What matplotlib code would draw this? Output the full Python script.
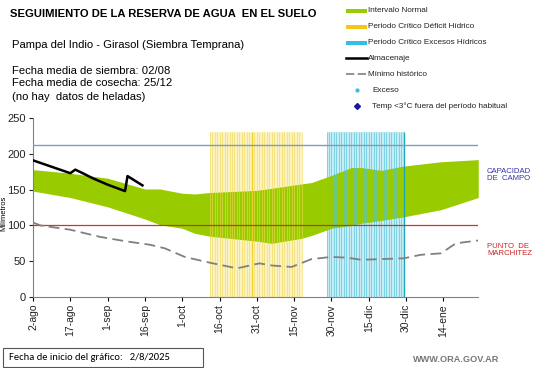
import matplotlib
matplotlib.use("Agg")
import matplotlib.pyplot as plt
import numpy as np
from matplotlib.lines import Line2D
from matplotlib.patches import Rectangle

plt.rcParams['font.family'] = ['Liberation Sans', 'DejaVu Sans']

# ---- data (day 0 = 2-ago) ----
tick_days = [0, 15, 30, 45, 60, 75, 90, 105, 120, 135, 150, 165]
tick_labels = ['2-ago', '17-ago', '1-sep', '16-sep', '1-oct', '16-oct', '31-oct',
               '15-nov', '30-nov', '15-dic', '30-dic', '14-ene']

band_days = [0, 15, 30, 45, 51, 60, 65, 71, 90, 96, 108, 112, 120, 128, 132, 140, 149, 164, 179]
band_upper = [178, 173, 166, 151, 151, 145, 144, 146, 149, 152, 158, 160, 170, 181, 181, 177, 183, 189, 192]
band_lower = [148, 139, 126, 109, 101, 96, 89, 85, 78, 75, 82, 86, 96, 100, 103, 107, 112, 122, 139]

alm_days = [0, 15, 17, 20, 24, 30, 37, 38, 44]
alm_values = [191, 173, 178, 173, 166, 157, 148, 169, 156]

min_days = [0, 3, 15, 27, 37, 47, 53, 61, 71, 82, 91, 96, 104, 112, 120, 126, 132, 140, 149, 156, 164, 170, 179]
min_values = [104, 100, 94, 84, 78, 73, 68, 56, 48, 40, 47, 44, 42, 53, 56, 55, 52, 53, 54, 59, 61, 75, 79]

field_capacity = 212
wilting_point = 100
deficit_period = (71, 108)
excess_period = (118, 149)
band_top = 231

fig = plt.figure(figsize=(5.41, 3.68), dpi=100)
ax = fig.add_axes([0.061, 0.193, 0.823, 0.486])

# critical periods
for (a, b), light, dark in [(deficit_period, '#fbf3c4', '#f0d850'),
                            (excess_period, '#c6edf5', '#4cc3da')]:
    ax.fill_between([a, b], 0, band_top, color=light, zorder=0, lw=0)
    ax.vlines(np.arange(a, b + 1), 0, band_top, color=dark, lw=0.7, zorder=2, alpha=0.6)
ax.vlines([88], 0, band_top, color='#f0d020', lw=1.0, zorder=2, alpha=0.8)
ax.vlines([excess_period[1]], 0, band_top, color='#1aa8b8', lw=1.0, zorder=2)

ax.fill_between(band_days, band_lower, band_upper, color='#99cc00', lw=0, zorder=1)

ax.axhline(field_capacity, color='#7f9cc0', lw=1, zorder=4)
ax.axhline(wilting_point, color='#c8372d', lw=0.9, zorder=4)

ax.plot(min_days, min_values, color='#808080', lw=1.3, dashes=(6, 3), zorder=5)
ax.plot(alm_days, alm_values, color='black', lw=1.8, zorder=6)

ax.set_xlim(0, 179)
ax.set_ylim(0, 250)
ax.set_yticks([0, 50, 100, 150, 200, 250])
ax.set_xticks(tick_days)
ax.set_xticklabels(tick_labels, rotation=90, fontsize=7.5, color='#222222')
ax.tick_params(axis='y', labelsize=8, colors='#222222', length=3, width=0.8, pad=2)
ax.tick_params(axis='x', length=3, width=0.8, pad=2)
for s in ['top', 'right']:
    ax.spines[s].set_visible(False)
for s in ['left', 'bottom']:
    ax.spines[s].set_color('#808080')
ax.set_ylabel('Milímetros', fontsize=5.5, labelpad=-2)
ax.yaxis.set_label_coords(-0.058, 0.47)

# right side labels
fig.text(487 / 541, 1 - 175 / 368, 'CAPACIDAD\nDE  CAMPO', color='#3333aa', fontsize=5.6,
         va='center', ha='left', linespacing=1.1)
fig.text(487 / 541, 1 - 250 / 368, 'PUNTO  DE\nMARCHITEZ', color='#cc2222', fontsize=5.6,
         va='center', ha='left', linespacing=1.1)

# header texts
fig.text(10 / 541, 1 - 14 / 368, 'SEGUIMIENTO DE LA RESERVA DE AGUA  EN EL SUELO',
         fontsize=8.1, fontweight='bold', va='center', ha='left')
fig.text(12 / 541, 1 - 45 / 368, 'Pampa del Indio - Girasol (Siembra Temprana)',
         fontsize=8.1, va='center', ha='left')
for yy, line in [(70.5, 'Fecha media de siembra: 02/08'),
                 (83.5, 'Fecha media de cosecha: 25/12'),
                 (96.5, '(no hay  datos de heladas)')]:
    fig.text(12 / 541, 1 - yy / 368, line, fontsize=8.1, va='center', ha='left')

# legend (manual)
leg_items = [
    ('patch', '#99cc00', 'Intervalo Normal'),
    ('patch', '#f5c518', 'Periodo Crítico Déficit Hídrico'),
    ('patch', '#33bfe0', 'Periodo Crítico Excesos Hídricos'),
    ('line', 'black', 'Almacenaje'),
    ('dash', '#808080', 'Mínimo histórico'),
    ('dot', '#33bfe0', 'Exceso'),
    ('diamond', '#1a1a99', 'Temp <3°C fuera del período habitual'),
]
y0 = 11
for i, (kind, col, lab) in enumerate(leg_items):
    yy = 1 - (y0 + i * 15.8) / 368
    x1, x2 = 346 / 541, 367 / 541
    if kind == 'patch':
        fig.patches.append(Rectangle((x1, yy - 2 / 368), x2 - x1, 4 / 368,
                                     transform=fig.transFigure, color=col, lw=0))
    elif kind == 'line':
        fig.lines.append(Line2D([x1, x2], [yy, yy], transform=fig.transFigure, color=col, lw=1.8))
    elif kind == 'dash':
        fig.lines.append(Line2D([x1, x2], [yy, yy], transform=fig.transFigure, color=col, lw=1.2,
                                dashes=(5, 2)))
    elif kind == 'dot':
        fig.lines.append(Line2D([357 / 541], [yy], transform=fig.transFigure, color=col,
                                marker='o', ms=2, lw=0))
    elif kind == 'diamond':
        fig.lines.append(Line2D([357 / 541], [yy], transform=fig.transFigure, color=col,
                                marker='D', ms=3, lw=0))
    tx = 368 / 541 if kind in ('patch', 'line', 'dash') else 372 / 541
    fig.text(tx, yy, lab, fontsize=5.9, va='center', ha='left', color='#222222')

# bottom box
fig.patches.append(Rectangle((3 / 541, 1 - 367 / 368), 200 / 541, 19 / 368,
                             transform=fig.transFigure, fill=False, ec='#555555', lw=0.8))
fig.text(9 / 541, 1 - 357 / 368, 'Fecha de inicio del gráfico:   2/8/2025', fontsize=7.6,
         va='center', ha='left', family=['Carlito', 'Lato', 'DejaVu Sans'])
fig.text(499 / 541, 1 - 360 / 368, 'WWW.ORA.GOV.AR', fontsize=6.6, fontweight='bold',
         color='#777777', va='center', ha='right')

fig.savefig('out.png', dpi=100)
